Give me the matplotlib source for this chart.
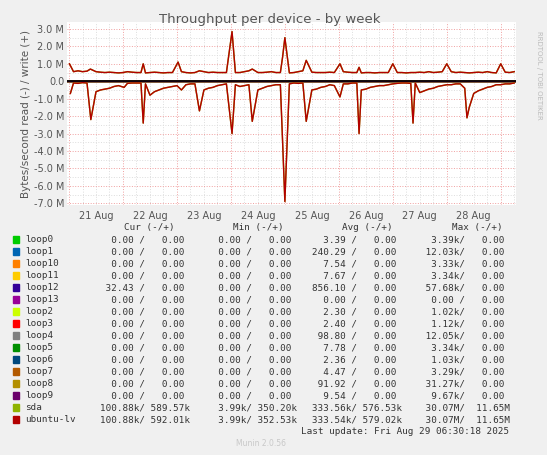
import matplotlib
matplotlib.use('Agg')
import matplotlib.pyplot as plt
import numpy as np

# hours since 21 Aug 00:00
base_hours = list(range(0, 200, 2))
read_base = [-0.15, -0.1, -0.12, -0.08, -0.1, -0.15, -0.6, -0.5, -0.45, -0.4,
             -0.3, -0.25, -0.15, -0.12, -0.1, -0.1, -0.1, -0.15, -0.8, -0.6,
             -0.5, -0.4, -0.35, -0.3, -0.25, -0.2, -0.2, -0.15, -0.15, -0.2,
             -0.5, -0.4, -0.35, -0.25, -0.2, -0.15, -0.15, -0.2, -0.3, -0.25,
             -0.2, -0.15, -0.5, -0.4, -0.3, -0.25, -0.2, -0.2, -0.2, -0.15,
             -0.1, -0.12, -0.1, -0.6, -0.5, -0.45, -0.35, -0.3, -0.2, -0.25,
             -0.2, -0.15, -0.15, -0.1, -0.1, -0.5, -0.45, -0.35, -0.3, -0.25,
             -0.25, -0.2, -0.15, -0.12, -0.1, -0.1, -0.12, -0.1, -0.65, -0.55,
             -0.45, -0.4, -0.3, -0.25, -0.2, -0.2, -0.15, -0.15, -0.4, -0.35,
             -0.7, -0.55, -0.45, -0.35, -0.3, -0.2, -0.2, -0.15, -0.15, -0.1]
write_base = [0.52, 0.55, 0.6, 0.55, 0.58, 0.55, 0.55, 0.52, 0.5, 0.52,
              0.5, 0.48, 0.5, 0.55, 0.52, 0.5, 0.5, 0.48, 0.5, 0.52,
              0.5, 0.48, 0.5, 0.5, 0.5, 0.55, 0.5, 0.48, 0.5, 0.6,
              0.55, 0.5, 0.52, 0.5, 0.5, 0.5, 0.48, 0.5, 0.5, 0.55,
              0.6, 0.52, 0.5, 0.5, 0.52, 0.55, 0.5, 0.5, 0.5, 0.48,
              0.5, 0.55, 0.6, 0.5, 0.52, 0.5, 0.5, 0.5, 0.52, 0.5,
              0.5, 0.55, 0.52, 0.5, 0.5, 0.48, 0.5, 0.5, 0.48, 0.5,
              0.5, 0.5, 0.52, 0.5, 0.5, 0.48, 0.5, 0.5, 0.52, 0.5,
              0.55, 0.5, 0.52, 0.55, 0.6, 0.55, 0.5, 0.52, 0.5, 0.48,
              0.5, 0.52, 0.5, 0.55, 0.5, 0.48, 0.5, 0.52, 0.5, 0.55]

write_spike_h = [0.2, 9.5, 33, 48.5, 72.5, 81.5, 95, 96, 105.5, 120.5, 129, 144, 168, 192]
write_spike_v = [1.0, 0.7, 1.0, 1.1, 2.85, 0.7, 1.4, 2.5, 1.2, 1.0, 0.8, 1.0, 1.0, 1.0]
read_spike_h = [0.6, 9.7, 24.5, 33, 50, 58, 72.5, 81.5, 95, 96, 105.5, 120.5, 129, 153, 177, 178]
read_spike_v = [-0.7, -2.2, -0.35, -2.4, -0.5, -1.7, -3.0, -2.3, -3.5, -6.9, -2.3, -0.9, -3.0, -2.4, -2.1, -1.5]

devices = ['loop0', 'loop1', 'loop10', 'loop11', 'loop12', 'loop13', 'loop2', 'loop3',
           'loop4', 'loop5', 'loop6', 'loop7', 'loop8', 'loop9', 'sda', 'ubuntu-lv']
colors = ['#00cc00', '#0066b3', '#ff8000', '#ffcc00', '#330099', '#990099', '#ccff00', '#ff0000',
          '#808080', '#008f00', '#00487d', '#b35a00', '#b38f00', '#6b006b', '#8fb300', '#b30000']
cur = ['  0.00 /   0.00 '] * 4 + [' 32.43 /   0.00 '] + ['  0.00 /   0.00 '] * 9 + \
      ['100.88k/ 589.57k', '100.88k/ 592.01k']
mins = ['  0.00 /   0.00 '] * 14 + ['  3.99k/ 350.20k', '  3.99k/ 352.53k']
avgs = ['  3.39 /   0.00 ', '240.29 /   0.00 ', '  7.54 /   0.00 ', '  7.67 /   0.00 ',
        '856.10 /   0.00 ', '  0.00 /   0.00 ', '  2.30 /   0.00 ', '  2.40 /   0.00 ',
        ' 98.80 /   0.00 ', '  7.78 /   0.00 ', '  2.36 /   0.00 ', '  4.47 /   0.00 ',
        ' 91.92 /   0.00 ', '  9.54 /   0.00 ', '333.56k/ 576.53k', '333.54k/ 579.02k']
maxs = ['  3.39k/   0.00 ', ' 12.03k/   0.00 ', '  3.33k/   0.00 ', '  3.34k/   0.00 ',
        ' 57.68k/   0.00 ', '  0.00 /   0.00 ', '  1.02k/   0.00 ', '  1.12k/   0.00 ',
        ' 12.05k/   0.00 ', '  3.34k/   0.00 ', '  1.03k/   0.00 ', '  3.29k/   0.00 ',
        ' 31.27k/   0.00 ', '  9.67k/   0.00 ', ' 30.07M/  11.65M', ' 30.07M/  11.65M']
day_labels = ['21 Aug', '22 Aug', '23 Aug', '24 Aug', '25 Aug', '26 Aug', '27 Aug', '28 Aug']


def merge(bh, bv, sh, sv):
    # drop base samples right next to a spike so spikes stay narrow
    keep = [(h, v) for h, v in zip(bh, bv) if min(abs(h - s) for s in sh) > 0.9]
    pts = sorted(keep + list(zip(sh, sv)))
    return [p[0] for p in pts], [p[1] for p in pts]


W, H = 547, 455
fig = plt.figure(figsize=(W / 100, H / 100), dpi=100, facecolor='#f0f0f0')
ax = fig.add_axes([67 / W, 1 - 205 / H, (516 - 67) / W, (205 - 22) / H])
ax.set_facecolor('white')

rh, rv = merge(base_hours, read_base, read_spike_h, read_spike_v)
wh, wv = merge(base_hours, write_base, write_spike_h, write_spike_v)
xmin, xmax = -0.9, 198.8
for i, d in enumerate(devices[:14]):
    ax.plot([xmin, xmax], [0, 0], color=colors[i], lw=1)
ax.plot(rh, rv, color=colors[14], lw=1)
ax.plot(wh, wv, color=colors[14], lw=1)
ax.plot(rh, rv, color=colors[15], lw=1)
ax.plot(wh, wv, color=colors[15], lw=1)
ax.axhline(0, color='black', lw=1.2)

ax.set_xlim(xmin, xmax)
ax.set_ylim(-7.1, 3.4)
ax.set_xticks(np.arange(0, 199, 24))
ax.set_xticks(np.arange(0, 199, 6), minor=True)
ax.set_xticklabels([])
for i, lab in enumerate(day_labels):
    ax.text(12 + 24 * i, -7.45, lab, ha='center', va='top', fontsize=7, color='#555555')
yt = np.arange(-7, 3.5, 1.0)
ax.set_yticks(yt)
ax.set_yticklabels(['%.1f M' % v if v != 0 else '0.0' for v in yt], fontsize=7, color='#555555')
ax.set_yticks(np.arange(-7, 3.5, 0.5), minor=True)
ax.grid(which='minor', color='#dddddd', ls=':', lw=0.7)
ax.grid(which='major', color='#f0a0a0', ls=':', lw=0.7)
ax.tick_params(length=0, which='both', pad=2)
for s in ax.spines.values():
    s.set_visible(False)
ax.set_axisbelow(True)
ax.set_ylabel('Bytes/second read (-) / write (+)', fontsize=7.5, color='#555555', labelpad=2)

fig.text(270 / W, 1 - 19 / H, 'Throughput per device - by week', ha='center', va='center',
         fontsize=9.5, color='#555555')
fig.text(539 / W, 1 - 75 / H, 'RRDTOOL / TOBI OETIKER', rotation=270, ha='center', va='center',
         fontsize=5, color='#bbbbbb')

mono = dict(family='DejaVu Sans Mono', fontsize=6.7, color='#333333', va='center')
hy = 1 - 227.5 / H
for x, lab in [(124, 'Cur (-/+)'), (233, 'Min (-/+)'), (342, 'Avg (-/+)'), (452, 'Max (-/+)')]:
    fig.text(x / W, hy, lab, ha='left', **mono)
for i, d in enumerate(devices):
    y = 1 - (239.7 + 12 * i) / H
    fig.patches.append(plt.Rectangle((13 / W, y - 3.5 / H), 6 / W, 7 / H, color=colors[i],
                                     transform=fig.transFigure, figure=fig))
    fig.text(25 / W, y, d, ha='left', **mono)
    for x, col in [(99.7, cur), (206.8, mins), (312.3, avgs), (419.7, maxs)]:
        fig.text(x / W, y, col[i], ha='left', **mono)
fig.text(509 / W, 1 - 431.5 / H, 'Last update: Fri Aug 29 06:30:18 2025', ha='right', **mono)
fig.text(261 / W, 1 - 444 / H, 'Munin 2.0.56', ha='center', va='center', fontsize=5.5,
         color='#c8c8c8')

fig.savefig('out.png', dpi=100, facecolor=fig.get_facecolor())
